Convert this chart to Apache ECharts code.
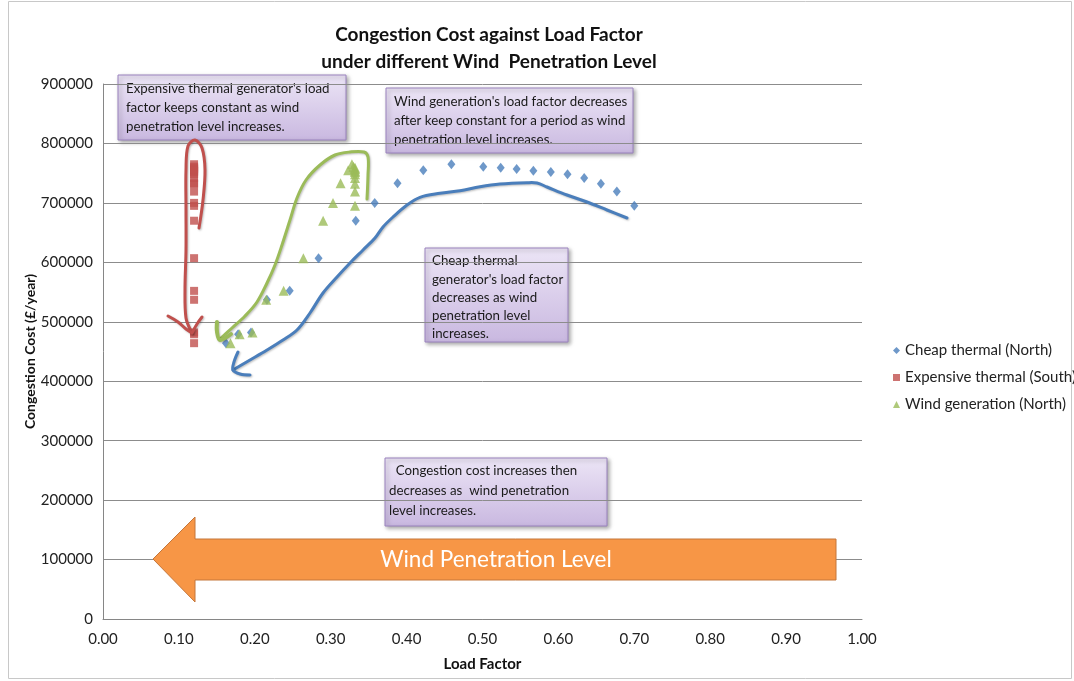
<!DOCTYPE html>
<html>
<head>
<meta charset="utf-8">
<script src="https://cdn.jsdelivr.net/npm/echarts@6/dist/echarts.min.js"></script>
<style>
html,body{margin:0;padding:0;background:#fff;}
#chart{width:1074px;height:681px;}
</style>
</head>
<body>
<div id="chart"></div>
<script>
// Congestion cost per wind-penetration scenario (£/year)
const congestionCost = [464000, 479000, 482000, 537000, 552000, 607000, 670000, 700000, 733000, 755000, 765000, 761000, 759000, 757000, 754000, 752000, 748000, 742000, 732000, 719000, 695000];
// Load factors per scenario
const cheapThermalLF = [0.162, 0.178, 0.195, 0.216, 0.246, 0.284, 0.333, 0.358, 0.388, 0.422, 0.459, 0.501, 0.524, 0.545, 0.567, 0.590, 0.612, 0.634, 0.656, 0.677, 0.700];
const expensiveThermalLF = [0.12, 0.12, 0.12, 0.12, 0.12, 0.12, 0.12, 0.12, 0.12, 0.12, 0.12, 0.12, 0.12, 0.12, 0.12, 0.12, 0.12, 0.12, 0.12, 0.12, 0.12];
const windLF = [0.168, 0.180, 0.197, 0.215, 0.238, 0.264, 0.290, 0.303, 0.313, 0.323, 0.328, 0.330, 0.332, 0.332, 0.332, 0.332, 0.332, 0.332, 0.332, 0.332, 0.332];
const seriesNames = ['Cheap thermal (North)', 'Expensive thermal (South)', 'Wind generation (North)'];
const xTicks = ['0.00','0.10','0.20','0.30','0.40','0.50','0.60','0.70','0.80','0.90','1.00'];
const yTicks = ['0','100000','200000','300000','400000','500000','600000','700000','800000','900000'];

const FONT = 'Lato, "Open Sans", sans-serif';
const pair = (xs) => xs.map((x, i) => [x, congestionCost[i]]);

const chart = echarts.init(document.getElementById('chart'));

const boxFill = {type:'linear', x:0, y:0, x2:0, y2:1, colorStops:[{offset:0,color:'#ece5f6'},{offset:1,color:'#c9b8e0'}]};
function box(x, y, w, h, lines, tx, lh, ty) {
  return {
    type:'group', z:50,
    children:[
      {type:'rect', shape:{x:x, y:y, width:w, height:h},
       style:{fill:boxFill, stroke:'#9a82be', lineWidth:1, shadowBlur:4, shadowOffsetX:2, shadowOffsetY:2, shadowColor:'rgba(0,0,0,0.35)'}},
      {type:'text', style:{text:lines.join('\n'), x:tx, y:ty, font:'13.3px ' + FONT, fill:'#1a1a1a', lineHeight:lh, textVerticalAlign:'top'}}
    ]
  };
}
function stroke(points, color, w) {
  return {type:'polyline', z:40, shape:{points:points, smooth:0.35},
    style:{stroke:color, lineWidth:w || 3, fill:null, lineCap:'round', lineJoin:'round', shadowBlur:2, shadowOffsetX:1, shadowOffsetY:1, shadowColor:'rgba(0,0,0,0.25)'}};
}

const option = {
  animation:false,
  textStyle:{fontFamily:FONT},
  title:{
    text:'Congestion Cost against Load Factor\nunder different Wind  Penetration Level',
    left:484, top:16, textAlign:'center',
    textStyle:{fontSize:19, fontWeight:'bold', color:'#111', lineHeight:27, fontFamily:FONT}
  },
  legend:{
    orient:'vertical', left:888, top:338, itemGap:12, itemWidth:7, itemHeight:7,
    textStyle:{fontSize:15, color:'#222', fontFamily:FONT},
    data:[{name:seriesNames[0], icon:'diamond'},{name:seriesNames[1], icon:'rect'},{name:seriesNames[2], icon:'triangle'}]
  },
  grid:{left:103, right:212, top:84, bottom:62, containLabel:false},
  xAxis:{
    type:'value', min:0, max:1, interval:0.1,
    name:'Load Factor', nameLocation:'middle', nameGap:38,
    nameTextStyle:{fontSize:15, fontWeight:'bold', color:'#111'},
    axisLine:{show:true, lineStyle:{color:'#868686'}},
    axisTick:{show:false},
    splitLine:{show:false},
    axisLabel:{fontSize:15, color:'#222', margin:13, formatter:(v)=>xTicks[Math.round(v*10)]}
  },
  yAxis:{
    type:'value', min:0, max:900000, interval:100000,
    name:'Congestion Cost (£/year)', nameLocation:'middle', nameGap:66, nameMoveOverlap:false,
    nameTextStyle:{fontSize:14, fontWeight:'bold', color:'#111'},
    axisLine:{show:true, lineStyle:{color:'#868686'}},
    axisTick:{show:false},
    splitLine:{show:true, lineStyle:{color:'#8c8c8c', width:1}},
    axisLabel:{fontSize:15, color:'#222', margin:10, formatter:(v)=>yTicks[Math.round(v/100000)]}
  },
  series:[
    {name:seriesNames[0], type:'scatter', symbol:'diamond', symbolSize:[8,10], z:5,
     itemStyle:{color:'#4a7ebb'}, data:pair(cheapThermalLF)},
    {name:seriesNames[1], type:'scatter', symbol:'rect', symbolSize:8, z:5,
     itemStyle:{color:'#c0504d'}, data:pair(expensiveThermalLF)},
    {name:seriesNames[2], type:'scatter', symbol:'triangle', symbolSize:10, z:5,
     itemStyle:{color:'#9bbb59'}, data:pair(windLF)}
  ],
  graphic:[
    {type:'rect', z:0, silent:true, shape:{x:8.5, y:1.5, width:1063, height:677}, style:{fill:null, stroke:'#c8c8c8', lineWidth:1}},
    // hand-drawn annotation strokes
    stroke([[199,228],[203,200],[205,170],[202,148],[195,140],[188,146],[186,170],[186,210],[186,250],[185,290],[186,318],[191,331]], '#c0504d'),
    stroke([[168,316],[178,322],[186,329],[192,333]], '#c0504d'),
    stroke([[192,333],[197,324],[202,317]], '#c0504d'),
    stroke([[367,199],[368,175],[368,157],[364,152],[350,152],[335,155],[320,165],[306,180],[297,198],[290,220],[282,245],[275,265],[267,283],[257,302],[245,316],[232,328],[221,338]], '#9bbb59'),
    stroke([[217,322],[217,332],[220,340],[231,334]], '#9bbb59', 4),
    stroke([[627,218],[607,210],[587,202],[567,195],[547,187],[537,183],[527,182.7],[500,184],[480,186.7],[460,190.7],[440,193.3],[420,197.3],[407,205],[393,217],[383,227],[375,238],[363,250],[350,263],[337,277],[323,293],[310,313],[297,330],[283,340],[267,350],[250,360],[238,367],[233,370]], '#4a7ebb'),
    stroke([[238,352],[234,362],[233,370],[240,374],[250,375]], '#4a7ebb'),
    // annotation boxes
    box(118, 75, 228, 65, ["Expensive thermal generator's load","factor keeps constant as wind","penetration level increases."], 126, 19, 79),
    box(386, 88, 247, 65, ["Wind generation's load factor decreases","after keep constant for a period as wind","penetration level increases."], 394, 19, 92),
    box(425, 248, 143, 94, ["Cheap thermal","generator's load factor","decreases as wind","penetration level","increases."], 432, 18.2, 252),
    box(385, 458, 222, 68, ["  Congestion cost increases then","decreases as  wind penetration","level increases."], 389, 20, 461),
    // orange arrow
    {type:'polygon', z:45, shape:{points:[[153,559],[195,517],[195,539],[836,539],[836,580],[195,580],[195,602]]},
     style:{fill:'#f79646', stroke:'#c4763a', lineWidth:1}},
    {type:'text', z:46, style:{text:'Wind Penetration Level', x:496, y:560, font:'22.5px ' + FONT, fill:'#ffffff', textAlign:'center', textVerticalAlign:'middle'}}
  ]
};
chart.setOption(option);
</script>
</body>
</html>
